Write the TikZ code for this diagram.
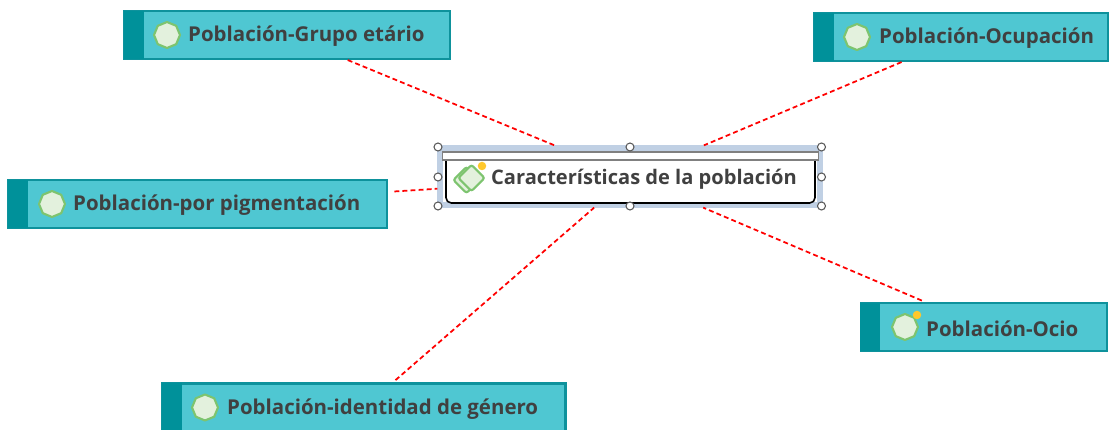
\documentclass[tikz,border=0pt]{standalone}
\usepackage{fontspec}
\setmainfont{Open Sans}
\usetikzlibrary{shapes.geometric}
\definecolor{boxfill}{HTML}{4FC7D2}
\definecolor{boxedge}{HTML}{0E929C}
\definecolor{stripeteal}{HTML}{00919A}
\definecolor{inktext}{HTML}{404040}
\definecolor{selblue}{HTML}{C0D0E4}
\definecolor{leafgreen}{HTML}{7DC46F}
\definecolor{leaffill}{HTML}{E3F1DD}
\definecolor{dotyellow}{HTML}{FFC82C}
\tikzset{
  topicbox/.style={draw=boxedge,fill=boxfill,line width=0.6pt,inner sep=0pt,minimum height=0.48cm},
  stripe/.style={fill=stripeteal,inner sep=0pt,minimum width=0.20cm,minimum height=0.48cm},
  topictext/.style={text=inktext,inner sep=0pt,anchor=west,font=\fontsize{5.82}{7}\selectfont\bfseries},
  leaf/.style={regular polygon,regular polygon sides=8,shape border rotate=22.5,draw=leafgreen,fill=leaffill,line width=0.6pt,line join=round,inner sep=0pt,minimum size=0.26cm},
  dot/.style={circle,fill=dotyellow,inner sep=0pt,minimum size=0.085cm},
  handle/.style={circle,draw=black!65,fill=white,line width=0.3pt,inner sep=0pt,minimum size=0.08cm},
  leg/.style={diamond,aspect=1,draw=leafgreen,fill=leaffill,line width=0.6pt,rounded corners=0.6pt,inner sep=0pt,minimum size=0.27cm},
  link/.style={red,line width=0.5pt,dash pattern=on 1.4pt off 0.9pt}
}
\begin{document}
\begin{tikzpicture}
  \useasboundingbox (0,0) rectangle (11.10,4.30);%

  % selected centre topic
  \node[draw=selblue,line width=1.5pt,inner sep=0pt,minimum width=3.80cm,minimum height=0.57cm] (sel) at (6.30,2.535) {};%
  \node[draw=black,fill=white,line width=0.45pt,rounded corners=1.5pt,inner sep=0pt,minimum width=3.69cm,minimum height=0.50cm] (main) at (6.305,2.52) {};%
  \node[draw=black!50,fill=white,line width=0.55pt,inner sep=0pt,minimum width=3.76cm,minimum height=0.075cm] (head) at (6.305,2.74) {};%

  \node[leg] (legb) at (4.665,2.50) {};%
  \node[leg] (lega) at (4.715,2.52) {};%
  \node[dot] (maindot) at (4.82,2.64) {};%
  \node[topictext,font=\fontsize{5.71}{7}\selectfont\bfseries] (maintext) at (4.905,2.505) {Características de la población};%

  \node[handle] (h1) at (4.38,2.83) {};%
  \node[handle] (h2) at (6.30,2.83) {};%
  \node[handle] (h3) at (8.215,2.83) {};%
  \node[handle] (h4) at (4.38,2.53) {};%
  \node[handle] (h5) at (8.215,2.53) {};%
  \node[handle] (h6) at (4.38,2.24) {};%
  \node[handle] (h7) at (6.30,2.24) {};%
  \node[handle] (h8) at (8.215,2.24) {};%

  % outer topics
  \node[topicbox,minimum width=3.26cm] (grupo) at (2.87,3.95) {};%
  \node[stripe] at (1.335,3.95) (grupoS) {};%
  \node[leaf] (grupoI) at (1.67,3.95) {};%
  \node[topictext] (grupoT) at (1.875,3.935) {Población-Grupo etário};%

  \node[topicbox,minimum width=2.94cm] (ocup) at (9.61,3.93) {};%
  \node[stripe] at (8.24,3.93) (ocupS) {};%
  \node[leaf] (ocupI) at (8.57,3.93) {};%
  \node[topictext] (ocupT) at (8.785,3.915) {Población-Ocupación};%

  \node[topicbox,minimum width=3.79cm] (pigm) at (1.975,2.26) {};%
  \node[stripe] at (0.18,2.26) (pigmS) {};%
  \node[leaf] (pigmI) at (0.52,2.26) {};%
  \node[topictext] (pigmT) at (0.725,2.245) {Población-por pigmentación};%

  \node[topicbox,minimum width=2.46cm] (ocio) at (9.84,1.03) {};%
  \node[stripe] at (8.705,1.03) (ocioS) {};%
  \node[leaf] (ocioI) at (9.05,1.03) {};%
  \node[dot] (ociodot) at (9.17,1.15) {};%
  \node[topictext] (ocioT) at (9.255,1.015) {Población-Ocio};%

  \node[topicbox,minimum width=4.03cm] (gene) at (3.64,0.225) {};%
  \node[stripe] at (1.72,0.225) (geneS) {};%
  \node[leaf] (geneI) at (2.05,0.225) {};%
  \node[topictext] (geneT) at (2.265,0.21) {Población-identidad de género};%

  % links
  \draw[link] (grupo) -- (sel);%
  \draw[link] (ocup) -- (sel);%
  \draw[link,shorten <=1.8pt] (pigm) -- (sel);%
  \draw[link,shorten <=1pt] (ocio) -- (sel);%
  \draw[link,shorten <=1pt] (gene) -- (sel);%
\end{tikzpicture}
\end{document}
